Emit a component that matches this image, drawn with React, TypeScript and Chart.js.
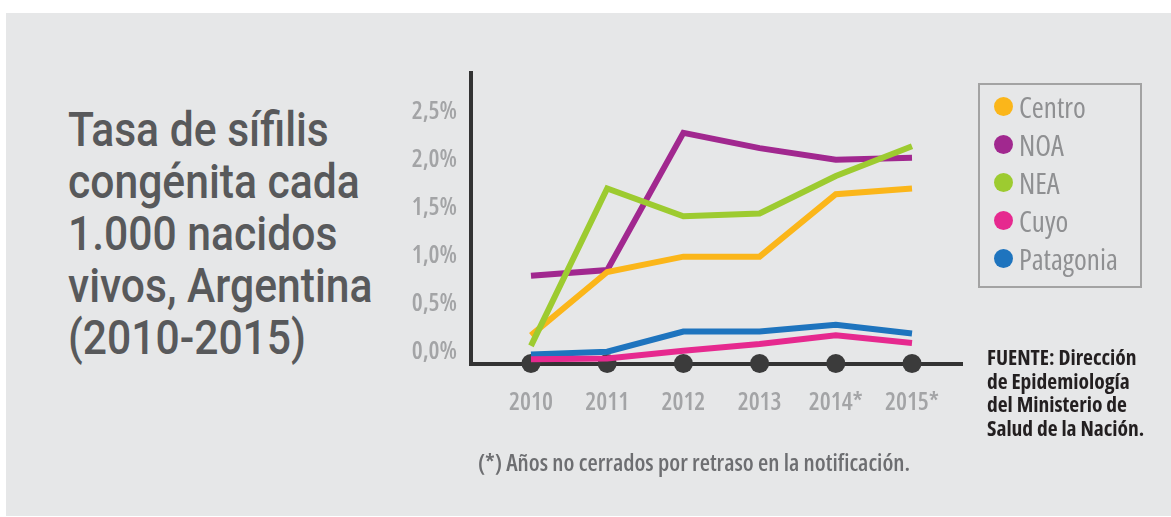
import React, { useEffect, useRef } from "react";
import { Chart, registerables } from "chart.js";

Chart.register(...registerables);

// ---- data ----
const years = ["2010", "2011", "2012", "2013", "2014*", "2015*"];
const seriesNames = ["Centro", "NOA", "NEA", "Cuyo", "Patagonia"];
const seriesColors = ["#fbb61a", "#a1288f", "#9dcb30", "#e6298f", "#1e74be"];
const centro = [0.17, 0.83, 0.99, 0.99, 1.64, 1.7];
const noa = [0.79, 0.85, 2.28, 2.12, 2.0, 2.02];
const nea = [0.06, 1.7, 1.41, 1.44, 1.83, 2.14];
const cuyo = [-0.08, -0.07, 0.01, 0.08, 0.17, 0.09];
const patagonia = [-0.03, 0.0, 0.21, 0.21, 0.28, 0.19];
const yTicks = [0, 0.5, 1, 1.5, 2, 2.5];
const titleLines = [
  "Tasa de sífilis",
  "congénita cada",
  "1.000 nacidos",
  "vivos, Argentina",
  "(2010-2015)",
];
const sourceLines = [
  "FUENTE: Dirección",
  "de Epidemiología",
  "del Ministerio de",
  "Salud de la Nación.",
];
const footnote = "(*) Años no cerrados por retraso en la notificación.";

const Y_MIN = -0.123;
const Y_MAX = 2.903;
const X_MIN = -0.787;
const X_MAX = 5.656;

const NARROW = '"Open Sans", "DejaVu Sans", sans-serif';

const allSeries = [centro, noa, nea, cuyo, patagonia];
const drawOrder = [3, 4, 2, 1, 5]; // lower = on top

export default function App() {
  const ref = useRef<HTMLCanvasElement | null>(null);

  useEffect(() => {
    if (!ref.current) return;
    const lineSets = seriesNames.map((name, s) => ({
      label: name,
      data: allSeries[s].map((v, i) => ({ x: i, y: v })),
      borderColor: seriesColors[s],
      backgroundColor: seriesColors[s],
      borderWidth: 6,
      pointRadius: 0,
      tension: 0,
      fill: false,
      order: drawOrder[s],
      clip: false as any,
    }));
    const dots = {
      label: "_axis",
      data: years.map((_, i) => ({ x: i, y: Y_MIN })),
      showLine: false,
      pointRadius: 9.5,
      pointBorderWidth: 0,
      pointBackgroundColor: "#3b3b3b",
      backgroundColor: "#3b3b3b",
      borderColor: "#3b3b3b",
      order: 100,
      clip: false as any,
    };
    const tickFont = {
      family: NARROW,
      size: 24.5,
      weight: "condensed 600",
    } as any;
    const chart = new Chart(ref.current, {
      type: "line",
      data: { datasets: [...lineSets, dots] as any },
      options: {
        animation: false,
        responsive: false,
        devicePixelRatio: 1,
        layout: { padding: { left: 0, right: 209, top: 73, bottom: 0 } },
        plugins: { legend: { display: false }, tooltip: { enabled: false } },
        scales: {
          x: {
            type: "linear",
            min: X_MIN,
            max: X_MAX,
            grid: { display: false, drawTicks: false },
            border: { display: true, color: "#333333", width: 4 },
            afterBuildTicks: (scale: any) => {
              scale.ticks = years.map((_, i) => ({ value: i }));
            },
            afterFit: (scale: any) => {
              scale.height = 153.5;
            },
            ticks: {
              padding: 25,
              autoSkip: false,
              maxRotation: 0,
              color: "#a3a4a6",
              font: tickFont,
              callback: (v: any) => years[Math.round(Number(v))] ?? "",
            },
          },
          y: {
            type: "linear",
            min: Y_MIN,
            max: Y_MAX,
            grid: { display: false, drawTicks: false },
            border: { display: true, color: "#333333", width: 4 },
            afterBuildTicks: (scale: any) => {
              scale.ticks = yTicks.map((v) => ({ value: v }));
            },
            afterFit: (scale: any) => {
              scale.width = 471;
            },
            ticks: {
              padding: 14,
              color: "#a3a4a6",
              font: tickFont,
              callback: (v: any) =>
                Number(v).toFixed(1).replace(".", ",") + "%",
            },
          },
        },
      },
    });
    return () => chart.destroy();
  }, []);

  const narrowText: React.CSSProperties = {
    fontFamily: NARROW,
    fontStretch: "75%",
    whiteSpace: "nowrap",
  };

  return (
    <div
      style={{
        position: "absolute",
        left: 0,
        top: 0,
        width: 1171,
        height: 517,
        background: "#ffffff",
        overflow: "hidden",
      }}
    >
      <div
        style={{
          position: "absolute",
          left: 6,
          top: 13,
          width: 1165,
          height: 503,
          background: "#e6e7e8",
        }}
      />
      <div
        style={{
          position: "absolute",
          left: 68,
          top: 104,
          fontFamily: "Roboto, sans-serif",
          fontWeight: 500,
          fontSize: 49,
          lineHeight: "52px",
          color: "#58595b",
          whiteSpace: "nowrap",
          transform: "scaleX(0.87)",
          transformOrigin: "0 0",
        }}
      >
        {titleLines.map((t, i) => (
          <div key={i}>{t}</div>
        ))}
      </div>
      <canvas
        ref={ref}
        width={1171}
        height={517}
        style={{ position: "absolute", left: 0, top: 0, width: 1171, height: 517 }}
      />
      <div
        style={{
          position: "absolute",
          left: 978,
          top: 83,
          width: 160,
          height: 201,
          border: "2px solid #a3a3a3",
        }}
      >
        {seriesNames.map((name, s) => (
          <div
            key={name}
            style={{
              position: "absolute",
              left: 14,
              top: 5 + s * 38,
              height: 32,
              display: "flex",
              alignItems: "center",
              whiteSpace: "nowrap",
            }}
          >
            <span
              style={{
                display: "inline-block",
                width: 19,
                height: 19,
                borderRadius: "50%",
                background: seriesColors[s],
                marginRight: 6,
              }}
            />
            <span
              style={{
                ...narrowText,
                fontStretch: "80%",
                fontSize: 29,
                color: "#8f9092",
              }}
            >
              {name}
            </span>
          </div>
        ))}
      </div>
      <div
        style={{
          ...narrowText,
          position: "absolute",
          left: 987,
          top: 345,
          fontWeight: 700,
          fontSize: 21.5,
          lineHeight: "23.5px",
          color: "#231f20",
        }}
      >
        {sourceLines.map((t, i) => (
          <div key={i}>{t}</div>
        ))}
      </div>
      <div
        style={{
          ...narrowText,
          position: "absolute",
          left: 478,
          top: 449,
          fontWeight: 600,
          fontSize: 23.5,
          lineHeight: "26px",
          color: "#6d6e71",
        }}
      >
        {footnote}
      </div>
    </div>
  );
}
